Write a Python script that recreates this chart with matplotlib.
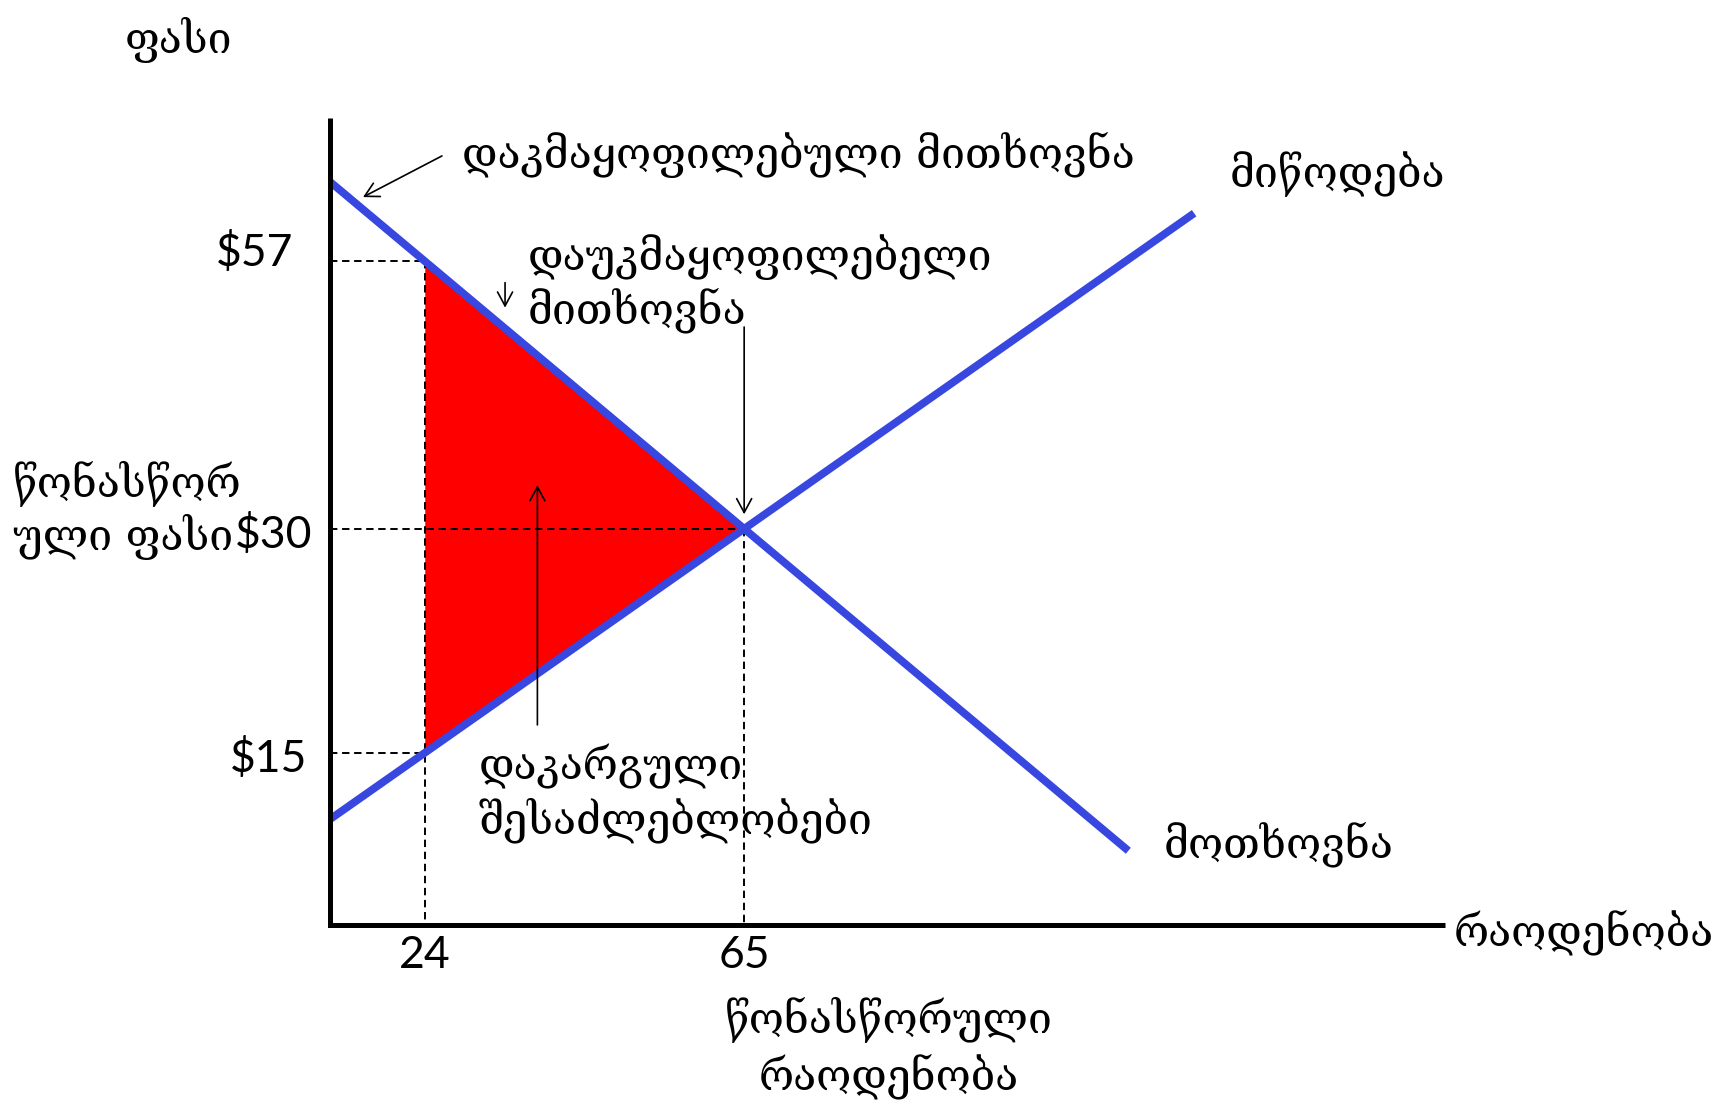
import matplotlib.pyplot as plt
import numpy as np

# schematic diagram units: the axes box runs 0..100 on both axes
demand_x = [0, 71.6]
demand_y = [92.1, 9.2]
supply_x = [0, 77.5]
supply_y = [13.1, 88.2]
q_low = 8.5            # quantity "24"
price_labels = ['$57', '$30', '$15']
qty_labels = ['24', '65']

blue = '#3747E0'
geo = ['DejaVu Serif', 'DejaVu Sans']
num = ['Lato', 'DejaVu Sans']

# slopes / intersection
dm = (demand_y[1] - demand_y[0]) / (demand_x[1] - demand_x[0])
sm = (supply_y[1] - supply_y[0]) / (supply_x[1] - supply_x[0])
q_eq = (supply_y[0] - demand_y[0]) / (dm - sm)
p_eq = demand_y[0] + dm * q_eq
d_low = demand_y[0] + dm * q_low
s_low = supply_y[0] + sm * q_low
price_levels = [d_low, p_eq, s_low]
qty_levels = [q_low, q_eq]

fig = plt.figure(figsize=(17.17, 11.05), dpi=100)
ax = fig.add_axes([330 / 1717, 180 / 1105, 1115 / 1717, 807 / 1105])
ax.set_xlim(0, 100)
ax.set_ylim(0, 100)
ax.axis('off')

# deadweight loss triangle
ax.fill_between([q_low, q_eq], [s_low, p_eq], [d_low, p_eq], color='#FF0000', lw=0, zorder=1)

# dashed guides
dash = dict(color='black', lw=1.4, ls=(0, (3.8, 2.4)), zorder=2, clip_on=False)
for q, p in zip([q_low, q_eq, q_low], price_levels):
    ax.plot([0, q], [p, p], **dash)
ax.plot([q_low, q_low], [d_low, 0], **dash)
ax.plot([q_eq, q_eq], [p_eq, 0], **dash)

# demand & supply
ax.plot(demand_x, demand_y, color=blue, lw=5.6, solid_capstyle='butt', zorder=3)
ax.plot(supply_x, supply_y, color=blue, lw=5.6, solid_capstyle='butt', zorder=3)

# axes
ax.plot([0, 0, 100], [100, 0, 0], color='black', lw=3.6, solid_joinstyle='miter',
        solid_capstyle='butt', clip_on=False, zorder=4)

# arrows
arr = dict(arrowstyle='->,head_length=0.5,head_width=0.27', lw=1.2, color='black',
           shrinkA=0, shrinkB=0, mutation_scale=20)
ax.annotate('', xy=(2.96, 90.2), xytext=(10.04, 95.3), arrowprops=arr, annotation_clip=False)
ax.annotate('', xy=(15.7, 76.5), xytext=(15.7, 79.6), arrowprops=arr)
ax.annotate('', xy=(q_eq, p_eq + 1.8), xytext=(q_eq, 74.1), arrowprops=arr)
ax.annotate('', xy=(18.6, 54.5), xytext=(18.6, 24.8), arrowprops=arr)

# price and quantity labels
for lab, p, x, dy in zip(price_labels, price_levels, [-3.3, -1.6, -2.0], [1.0, -0.8, -0.8]):
    ax.text(x, p + dy, lab, ha='right', va='center', fontsize=32, family=num, clip_on=False)
for lab, q in zip(qty_labels, qty_levels):
    ax.text(q, -3.84, lab, ha='center', va='center', fontsize=32, family=num, clip_on=False)

# georgian texts
georgian = [
    ('ფასი', -13.6, 108.1, 'center'),
    ('დაკმაყოფილებული მითხოვნა', 11.8, 93.8, 'left'),
    ('მიწოდება', 80.7, 91.4, 'left'),
    ('დაუკმაყოფილებელი', 17.7, 81.2, 'left'),
    ('მითხოვნა', 17.7, 74.6, 'left'),
    ('დაკარგული', 13.3, 18.0, 'left'),
    ('შესაძლებლობები', 13.3, 11.3, 'left'),
    ('მოთხოვნა', 74.8, 8.4, 'left'),
    ('რაოდენობა', 100.8, -2.5, 'left'),
    ('წონასწორული', 50.1, -13.4, 'center'),
    ('რაოდენობა', 50.1, -20.4, 'center'),
    ('წონასწორ', -28.4, 53.0, 'left'),
    ('ული ფასი', -28.4, 46.5, 'left'),
]
texts = []
for s, x, y, ha in georgian:
    texts.append(ax.text(x, y, s, ha=ha, va='baseline', fontsize=28, family=geo, clip_on=False))

# fit georgian size to the width of the long top label (about 673 px)
fig.canvas.draw()
w = texts[1].get_window_extent(fig.canvas.get_renderer()).width
for t in texts:
    t.set_fontsize(28 * 673 / w)

fig.savefig('out.png', dpi=100, facecolor='white')
